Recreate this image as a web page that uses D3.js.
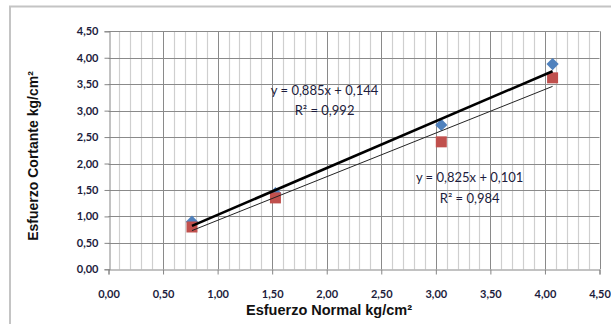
<!DOCTYPE html>
<html>
<head>
<meta charset="utf-8">
<script src="https://cdn.jsdelivr.net/npm/d3@7"></script>
<style>
  body { margin: 0; background: #fff; }
  svg text { font-family: Lato, "Liberation Sans", sans-serif; }
</style>
</head>
<body>
<div id="viz"></div>
<script>
// data
var xTicks = [0, 0.5, 1, 1.5, 2, 2.5, 3, 3.5, 4, 4.5],
  yTicks = [0, 0.5, 1, 1.5, 2, 2.5, 3, 3.5, 4, 4.5];

var normal1 = [0.765, 1.53, 3.05, 4.07],
  shear1 = [0.90, 1.44, 2.73, 3.88];
var normal2 = [0.765, 1.53, 3.05, 4.07],
  shear2 = [0.80, 1.35, 2.41, 3.62];

var slopes = [0.885, 0.825],
  intercepts = [0.144, 0.101],
  r2 = [0.992, 0.984];

var width = 611,
  height = 324,
  margin = {left: 108.5, right: 11.5, top: 31.3, bottom: 54.7}

var fmt = function(v, d) { return v.toFixed(d).replace('.', ','); }

var svg = d3.select('#viz').append('svg')
  .attr('width', width).attr('height', height)

// outer chart border
svg.append('rect')
  .attr('x', 10).attr('y', 6.5)
  .attr('width', 620).attr('height', 330)
  .attr('fill', 'none').attr('stroke', '#c4c4c4').attr('stroke-width', 2)

var x = d3.scaleLinear().domain([0, 4.5]).range([margin.left, width - margin.right]),
  y = d3.scaleLinear().domain([0, 4.5]).range([height - margin.bottom, margin.top])

var g = svg.append('g')

// minor vertical grid every 0.1
g.selectAll('line.minor')
  .data(d3.range(0, 45).map(function(i) { return i / 10; }).filter(function(d, i) { return i % 5 != 0; }))
  .enter().append('line')
  .attr('class', 'minor')
  .attr('x1', function(d) { return Math.round(x(d)) + 0.5; })
  .attr('x2', function(d) { return Math.round(x(d)) + 0.5; })
  .attr('y1', y(0)).attr('y2', y(4.5))
  .attr('stroke', '#cfcfcf').attr('stroke-width', 1.2)

// major grid
g.selectAll('line.vmajor')
  .data(xTicks.slice(1))
  .enter().append('line')
  .attr('x1', function(d) { return Math.round(x(d)) + 0.5; })
  .attr('x2', function(d) { return Math.round(x(d)) + 0.5; })
  .attr('y1', y(0)).attr('y2', y(4.5))
  .attr('stroke', '#8a8a8a').attr('stroke-width', 1)

g.selectAll('line.hmajor')
  .data(yTicks.slice(1))
  .enter().append('line')
  .attr('y1', function(d) { return Math.round(y(d)) + 0.5; })
  .attr('y2', function(d) { return Math.round(y(d)) + 0.5; })
  .attr('x1', x(0)).attr('x2', x(4.5))
  .attr('stroke', '#8a8a8a').attr('stroke-width', 1)

// axes
var xAxis = d3.axisBottom(x).tickValues(xTicks).tickSize(5).tickPadding(16)
  .tickFormat(function(d) { return fmt(d, 2); })
var yAxis = d3.axisLeft(y).tickValues(yTicks).tickSize(5).tickPadding(6)
  .tickFormat(function(d) { return fmt(d, 2); })

var gx = svg.append('g')
  .attr('transform', 'translate(0,' + (Math.round(y(0)) + 0.5) + ')')
  .call(xAxis)
var gy = svg.append('g')
  .attr('transform', 'translate(' + (Math.round(x(0)) + 0.5) + ',0)')
  .call(yAxis)

;[gx, gy].forEach(function(a) {
  a.select('.domain').attr('stroke', '#868686')
  a.selectAll('.tick line').attr('stroke', '#868686')
  a.selectAll('text')
    .style('font-family', 'Lato, sans-serif')
    .style('font-size', '11px')
    .style('font-weight', 'bold')
    .attr('fill', '#1c1c3c')
})

// axis titles
svg.append('text')
  .attr('x', 329).attr('y', 315)
  .attr('text-anchor', 'middle')
  .style('font-family', '"Liberation Sans", Arial, sans-serif')
  .style('font-size', '14.5px').style('font-weight', 'bold')
  .attr('fill', '#111')
  .text('Esfuerzo Normal kg/cm²')

svg.append('text')
  .attr('transform', 'translate(38,156) rotate(-90)')
  .attr('text-anchor', 'middle')
  .style('font-family', '"Liberation Sans", Arial, sans-serif')
  .style('font-size', '14px').style('font-weight', 'bold')
  .attr('fill', '#111')
  .text('Esfuerzo Cortante kg/cm²')

// markers
var pts1 = normal1.map(function(d, i) { return {x: d, y: shear1[i]}; }),
  pts2 = normal2.map(function(d, i) { return {x: d, y: shear2[i]}; })

svg.selectAll('path.diamond')
  .data(pts1)
  .enter().append('path')
  .attr('d', d3.symbol().type(d3.symbolDiamond2).size(95))
  .attr('transform', function(d) { return 'translate(' + x(d.x) + ',' + y(d.y) + ')'; })
  .attr('fill', '#4f81bd')

svg.selectAll('rect.sq')
  .data(pts2)
  .enter().append('rect')
  .attr('x', function(d) { return x(d.x) - 5.5; })
  .attr('y', function(d) { return y(d.y) - 5.5; })
  .attr('width', 11).attr('height', 11)
  .attr('fill', '#c0504d')

// trend lines between the first and last point of each series
var ranges = [d3.extent(normal1), d3.extent(normal2)],
  widths = [2.6, 1]

ranges.forEach(function(r, k) {
  svg.append('line')
    .attr('x1', x(r[0])).attr('y1', y(slopes[k] * r[0] + intercepts[k]))
    .attr('x2', x(r[1])).attr('y2', y(slopes[k] * r[1] + intercepts[k]))
    .attr('stroke', k == 0 ? '#000' : '#222')
    .attr('stroke-width', widths[k])
})

// equation labels
var labelPos = [[1.98, 3.39], [3.31, 1.73]]
labelPos.forEach(function(p, k) {
  var t = svg.append('text')
    .attr('x', x(p[0])).attr('y', y(p[1]))
    .attr('text-anchor', 'middle')
    .style('font-size', '13px')
    .attr('fill', '#1c1c3c')
  t.append('tspan').attr('x', x(p[0])).attr('dy', '0.35em')
    .text('y = ' + fmt(slopes[k], 3) + 'x + ' + fmt(intercepts[k], 3))
  t.append('tspan').attr('x', x(p[0])).attr('dy', '1.55em')
    .text('R² = ' + fmt(r2[k], 3))
})
</script>
</body>
</html>
